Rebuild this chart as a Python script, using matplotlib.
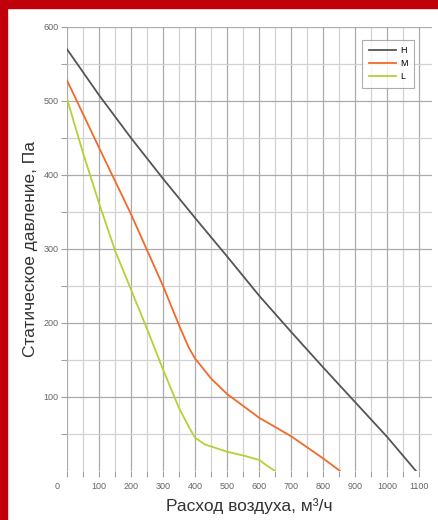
import matplotlib
matplotlib.use("Agg")
import matplotlib.pyplot as plt
import matplotlib.transforms as mtransforms
from matplotlib.patches import Rectangle

# --------------------------------------------------
# DATA
# --------------------------------------------------
h_flow = [0, 100, 200, 300, 400, 500, 600, 700, 800, 900, 1000, 1090]
h_press = [570, 508, 450, 395, 342, 290, 237, 188, 140, 93, 46, 0]

m_flow = [0, 100, 200, 300, 350, 380, 400, 450, 500, 600, 700, 800, 853]
m_press = [528, 437, 347, 250, 197, 167, 152, 125, 104, 72, 47, 17, 0]

l_flow = [0, 50, 100, 150, 200, 250, 300, 350, 380, 400, 430, 500, 550, 600, 625, 650]
l_press = [503, 430, 362, 298, 245, 192, 137, 85, 60, 45, 36, 26, 21, 15, 7, 0]

x_ticks = [0, 100, 200, 300, 400, 500, 600, 700, 800, 900, 1000, 1100]
y_ticks = [100, 200, 300, 400, 500, 600]

plt.rcParams["font.family"] = ["Liberation Sans", "DejaVu Sans"]

fig = plt.figure(figsize=(4.38, 5.2), dpi=100)
fig.patch.set_facecolor("white")

# red frame on top and left edge
fig.patches.append(Rectangle((0, 1 - 8 / 520), 1, 8 / 520, transform=fig.transFigure,
                             color="#c0000a", zorder=0))
fig.patches.append(Rectangle((0, 0), 7 / 438, 1, transform=fig.transFigure,
                             color="#c0000a", zorder=0))

ax = fig.add_axes([67 / 438, 49 / 520, (432 - 67) / 438, 444 / 520])

ax.plot(h_flow, h_press, color="#555555", lw=1.3, label="H", zorder=3)
ax.plot(m_flow, m_press, color="#f26a2a", lw=1.3, label="M", zorder=3)
ax.plot(l_flow, l_press, color="#b3d235", lw=1.3, label="L", zorder=3)

ax.set_xlim(0, 1140)
ax.set_ylim(0, 600)

ax.set_xticks(x_ticks)
ax.set_xticks(range(50, 1150, 100), minor=True)
ax.set_yticks(y_ticks)
ax.set_yticks(range(50, 600, 100), minor=True)

ax.grid(which="major", color="#ababab", lw=0.9)
ax.grid(which="minor", color="#d2d2d2", lw=0.9)
ax.set_axisbelow(True)

for s in ax.spines.values():
    s.set_visible(False)

ax.tick_params(axis="both", which="both", colors="#a0a0a0", labelcolor="#666666",
               labelsize=6.5, length=4, width=0.8)
ax.tick_params(axis="y", pad=2)
ax.tick_params(axis="x", pad=4)

# the "0" label sits a bit left of the axis in the original
ax.figure.canvas.draw()
lab0 = ax.get_xticklabels()[0]
lab0.set_transform(lab0.get_transform() + mtransforms.ScaledTranslation(-10 / 100, 0, fig.dpi_scale_trans))

ax.set_xlabel("Расход воздуха, м³/ч", fontsize=12.5, color="#333333", labelpad=5)
ax.set_ylabel("Статическое давление, Па", fontsize=12.5, color="#333333", labelpad=4)

leg = ax.legend(loc="upper right", bbox_to_anchor=(0.951, 0.971), fontsize=6.5,
                handlelength=3, frameon=True, fancybox=False, borderpad=0.7,
                labelspacing=0.45, handletextpad=0.5, borderaxespad=0)
leg.get_frame().set_edgecolor("#999999")
leg.get_frame().set_linewidth(0.8)

fig.savefig("out.png", dpi=100, facecolor="white")
